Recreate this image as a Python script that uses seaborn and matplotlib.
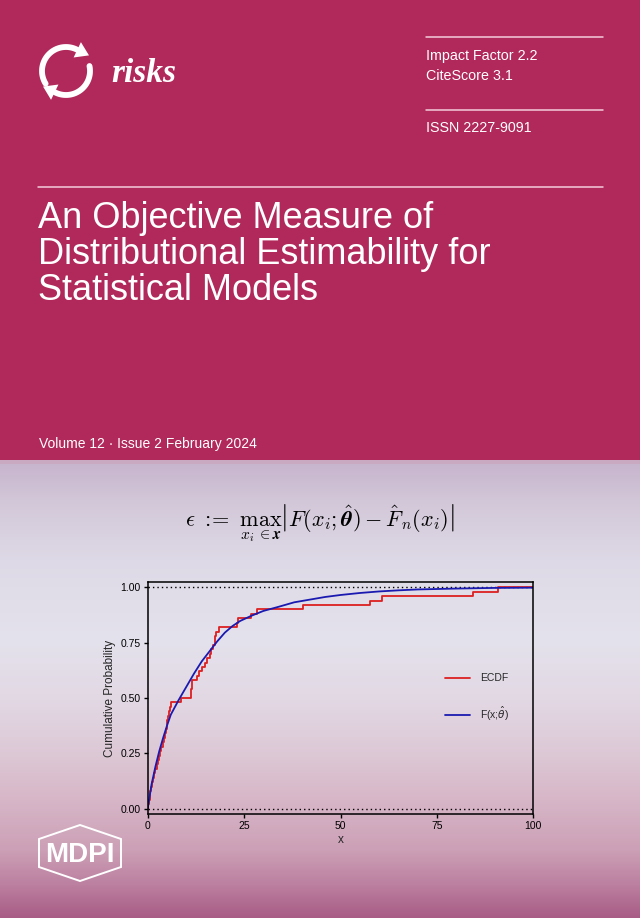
import numpy as np
import pandas as pd
import matplotlib
matplotlib.use("Agg")
import matplotlib.pyplot as plt
import seaborn as sns
from matplotlib.patches import Rectangle, Polygon
from matplotlib.font_manager import FontProperties

# sample (n = 50)
sample = [0.1, 0.3, 0.5, 0.7, 0.9, 1.2, 1.4, 1.6, 2.0, 2.3, 2.6, 3.0, 3.2, 3.5,
          3.9, 4.2, 4.5, 4.7, 4.9, 5.1, 5.3, 5.5, 5.8, 6.0, 8.7, 11.1, 11.2,
          11.4, 11.5, 12.7, 13.4, 14.0, 14.9, 15.5, 16.2, 16.5, 16.9, 17.4,
          17.5, 17.6, 18.6, 23.2, 23.3, 26.7, 28.3, 40.4, 57.6, 60.7, 84.4, 90.9]

# fitted cdf
fit_x = [0, 1, 2, 3, 4, 5, 6, 8, 10, 12, 14, 16, 18, 20, 22, 24, 27, 30, 34,
         38, 43, 46, 50, 55, 60, 65, 70, 80, 90, 100]
fit_p = [0.0, 0.11, 0.19, 0.26, 0.32, 0.375, 0.425, 0.49, 0.55, 0.61, 0.665,
         0.71, 0.755, 0.795, 0.825, 0.848, 0.872, 0.893, 0.912, 0.932, 0.947,
         0.956, 0.965, 0.974, 0.981, 0.986, 0.990, 0.994, 0.997, 0.998]

x_ticks = [0, 25, 50, 75, 100]
y_ticks = [0.0, 0.25, 0.5, 0.75, 1.0]
y_ticklabels = ["0.00", "0.25", "0.50", "0.75", "1.00"]

title_lines = ["An Objective Measure of",
               "Distributional Estimability for",
               "Statistical Models"]
metrics = ["Impact Factor 2.2", "CiteScore 3.1"]
issn = "ISSN 2227-9091"
issue = "Volume 12 \u00b7 Issue 2 February 2024"
formula = (r"$\epsilon\ {:}\!\!=\ \max_{x_i \in \boldsymbol{x}}"
           r"\left| F(x_i; \hat{\boldsymbol{\theta}}) - \hat{F}_n(x_i) \right|$")

MAGENTA = "#b1285a"
RED = "#dc2020"
BLUE = "#1a1ab0"

sns.set_style("ticks")
plt.rcParams["font.family"] = ["Liberation Sans", "DejaVu Sans"]
plt.rcParams["mathtext.fontset"] = "cm"

W, H = 640, 918
fig = plt.figure(figsize=(W / 100, H / 100), dpi=100)

# background in pixel coords
bg = fig.add_axes([0, 0, 1, 1])
bg.set_xlim(0, W)
bg.set_ylim(H, 0)
bg.axis("off")

stops_y = [459, 500, 560, 640, 700, 760, 800, 850, 885, 918]
stops_c = np.array([[198, 178, 204], [210, 199, 216], [222, 217, 230],
                    [228, 226, 236], [226, 216, 228], [220, 198, 212],
                    [215, 182, 200], [204, 160, 182], [188, 128, 160],
                    [168, 92, 134]]) / 255
rows = np.arange(459, H + 1)
grad = np.stack([np.interp(rows, stops_y, stops_c[:, k]) for k in range(3)], axis=1)
img = np.repeat(grad[:, None, :], 8, axis=1)
bg.imshow(img, extent=(0, W, H, 459), aspect="auto", interpolation="bilinear")
bg.add_patch(Rectangle((0, 0), W, 459.5, color=MAGENTA, lw=0))
bg.add_patch(Rectangle((0, 459.5), W, 4, color="#c9a9c2", lw=0))


def curved_arrow(cx, cy, r, a0, a1, head=13, half=8.5):
    # arc in pixel coords (y down) ending with a filled head
    t = np.deg2rad(np.linspace(a0, a1, 60))
    px, py = cx + r * np.cos(t), cy - r * np.sin(t)
    bg.plot(px, py, color="white", lw=4.2, solid_capstyle="round")
    d = np.array([px[-1] - px[-3], py[-1] - py[-3]])
    d /= np.hypot(*d)
    n = np.array([-d[1], d[0]])
    base = np.array([px[-1], py[-1]])
    tip = base + d * head
    bg.add_patch(Polygon([base + n * half, tip, base - n * half],
                         closed=True, color="white", lw=0))


# logo
curved_arrow(66, 71, 24, 212, 62)
curved_arrow(66, 71, 24, 12, -118)
bg.text(111, 81.5, "risks", color="white", fontsize=24, fontweight="bold",
        fontstyle="italic", family="Liberation Serif", va="baseline")

# header rules and text
rule = dict(color="#f3cddb", lw=1.1)
bg.plot([426, 603], [37.3, 37.3], **rule)
bg.plot([426, 603], [110, 110], **rule)
bg.plot([38, 603], [187.3, 187.3], **rule)
for yb, t in zip([60, 80], metrics):
    bg.text(426, yb, t, color="white", fontsize=10.3, va="baseline")
bg.text(426, 131.7, issn, color="white", fontsize=10.3, va="baseline")
for yb, t in zip([228, 264, 300], title_lines):
    bg.text(38, yb, t, color="white", fontsize=26, va="baseline")
bg.text(39, 448.3, issue, color="white", fontsize=10, va="baseline")

bg.text(320, 523, formula, color="black", fontsize=16, ha="center", va="center")

# MDPI mark
hx = [80, 121, 121, 80, 39, 39]
hy = [825, 839, 867, 881, 867, 839]
bg.add_patch(Polygon(np.c_[hx, hy], closed=True, fill=False, ec="white", lw=1.4))
bg.text(80, 862, "MDPI", color="white", fontsize=20, fontweight="bold",
        ha="center", va="baseline")

# the chart
ax = fig.add_axes([147.7 / W, 1 - 814.3 / H, 385.6 / W, 232.6 / H])
ax.patch.set_alpha(0)

xs = np.sort(np.array(sample))
ys = np.arange(1, len(xs) + 1) / len(xs)
ecdf = pd.DataFrame({"x": np.r_[0, xs, 100], "p": np.r_[0, ys, 1]})
fit = pd.DataFrame({"x": fit_x, "p": fit_p})

ax.axhline(0, color="black", lw=1.0, ls=(0, (1, 2.2)), zorder=1)
ax.axhline(1, color="black", lw=1.0, ls=(0, (1, 2.2)), zorder=1)
sns.lineplot(data=ecdf, x="x", y="p", ax=ax, color=RED, lw=1.3,
             drawstyle="steps-post", estimator=None, sort=False, label="ECDF")
sns.lineplot(data=fit, x="x", y="p", ax=ax, color=BLUE, lw=1.3,
             estimator=None, label=r"F(x;$\hat{\theta}$)")

ax.set_xlim(0, 100)
ax.set_ylim(-0.025, 1.025)
ax.set_xticks(x_ticks)
ax.set_yticks(y_ticks)
ax.set_yticklabels(y_ticklabels)
ax.tick_params(labelsize=7.5, length=3, width=1, color="black", labelcolor="black", pad=2)
for s in ax.spines.values():
    s.set_visible(True)
    s.set_color("black")
    s.set_linewidth(1.1)
ax.set_xlabel("x", fontsize=8.5, labelpad=2)
ax.set_ylabel("Cumulative Probability", fontsize=8.5, labelpad=3.5)

ax.legend(loc="center left", bbox_to_anchor=((445 - 147.7) / 385.6, 0.5),
          frameon=False, handlelength=2.4, handletextpad=1.0, labelspacing=2.0,
          borderpad=0, borderaxespad=0,
          prop=FontProperties(family="Liberation Sans", size=7.5,
                              math_fontfamily="dejavusans"))

fig.savefig("out.png", dpi=100)
